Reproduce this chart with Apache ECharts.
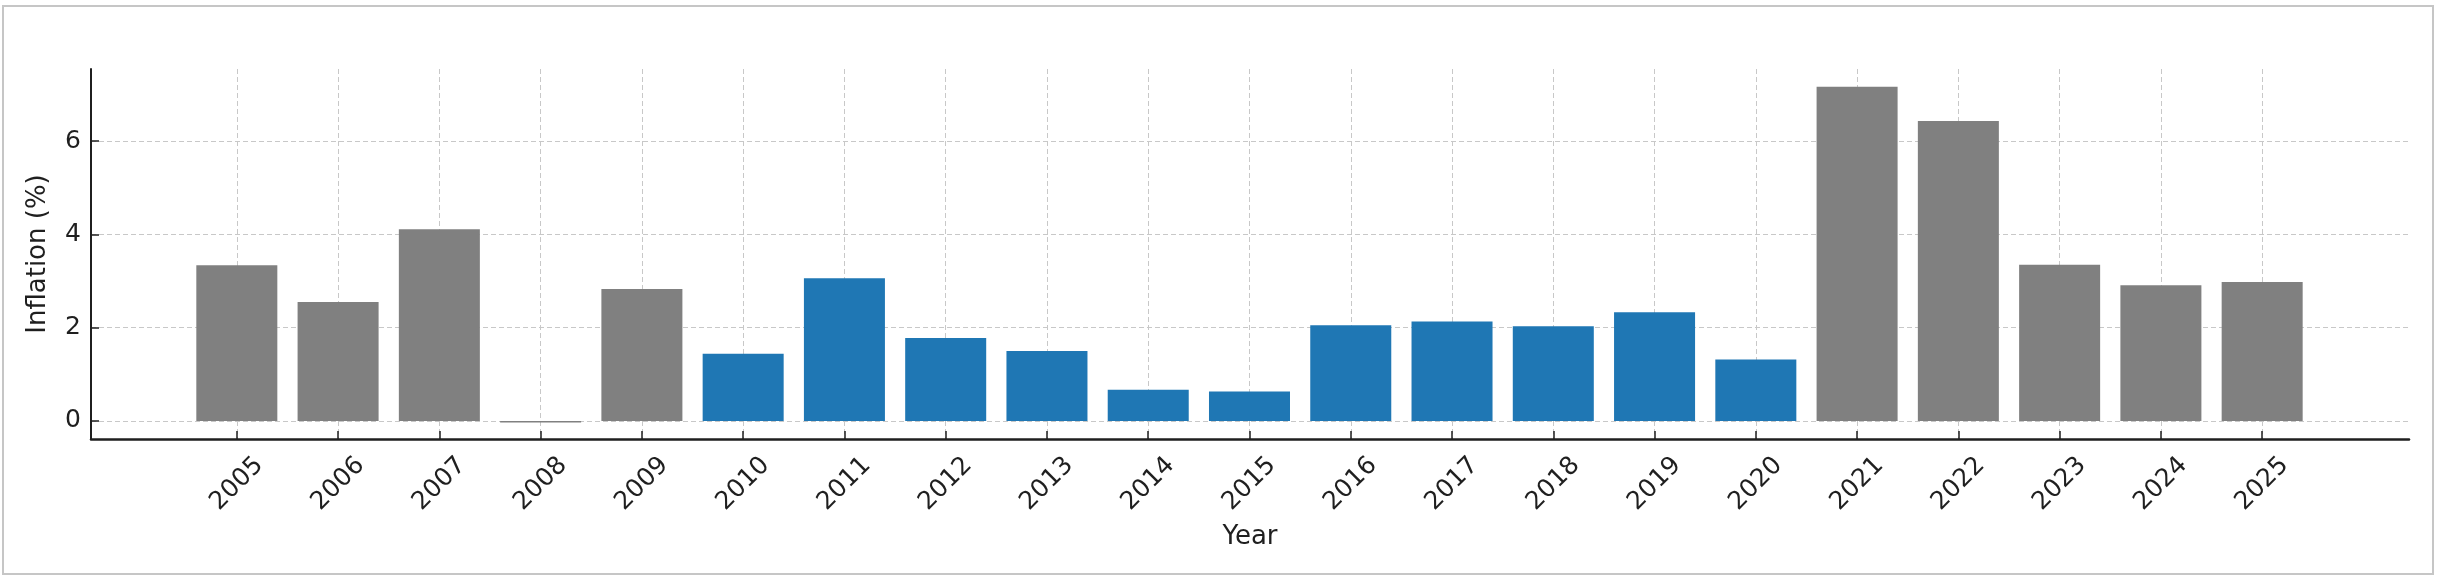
<!DOCTYPE html>
<html>
<head>
<meta charset="utf-8">
<script src="https://cdn.jsdelivr.net/npm/echarts@6/dist/echarts.min.js"></script>
<style>
  html, body { margin: 0; padding: 0; background: #ffffff; }
  #wrap { position: relative; width: 2442px; height: 586px; }
  #chart { position: absolute; left: 0; top: 0; width: 2442px; height: 586px; }
  #frame { position: absolute; left: 2px; top: 5px; width: 2428px; height: 566px;
           border: 2px solid #c6c6c6; pointer-events: none; }
</style>
</head>
<body>
<div id="wrap">
  <div id="chart"></div>
  <div id="frame"></div>
</div>
<script>
// ---- data ----
const years = [2005, 2006, 2007, 2008, 2009, 2010, 2011, 2012, 2013, 2014, 2015,
               2016, 2017, 2018, 2019, 2020, 2021, 2022, 2023, 2024, 2025];
const inflation = [3.34, 2.55, 4.11, -0.03, 2.83, 1.44, 3.06, 1.78, 1.50, 0.67, 0.63,
                   2.05, 2.13, 2.03, 2.33, 1.32, 7.16, 6.43, 3.35, 2.91, 2.98];
const highlightedYears = [2010, 2011, 2012, 2013, 2014, 2015, 2016, 2017, 2018, 2019, 2020];
const yTicks = [0, 2, 4, 6];
const xAxisName = 'Year';
const yAxisName = 'Inflation (%)';

// ---- build series data ----
const greyData = [];
const blueData = [];
years.forEach(function (y, i) {
  if (highlightedYears.indexOf(y) >= 0) blueData.push([y, inflation[i]]);
  else greyData.push([y, inflation[i]]);
});

const FONT = 'DejaVu Sans';
const TXT = '#1f1f1f';
const gridLine = { show: true, lineStyle: { color: '#c8c8c8', width: 1, type: [5, 3] } };

const chart = echarts.init(document.getElementById('chart'), null, { renderer: 'canvas' });
chart.setOption({
  animation: false,
  backgroundColor: 'transparent',
  textStyle: { fontFamily: FONT },
  grid: { left: 91, right: 33, top: 69, bottom: 147, containLabel: false, outerBoundsMode: 'none' },
  xAxis: {
    type: 'value',
    min: 2003.56,
    max: 2026.45,
    name: xAxisName,
    nameLocation: 'middle',
    nameGap: 85,
    nameTextStyle: { fontFamily: FONT, fontSize: 26, color: TXT },
    axisLine: { show: true, onZero: false, lineStyle: { color: TXT, width: 2.5 } },
    axisTick: { show: true, inside: true, length: 8, customValues: years,
                lineStyle: { color: TXT, width: 1.5 } },
    axisLabel: { show: true, customValues: years, rotate: 45, margin: 45,
                 align: 'center', verticalAlign: 'middle',
                 fontFamily: FONT, fontSize: 25, color: TXT,
                 formatter: function (v) { return String(v); } },
    splitLine: gridLine
  },
  yAxis: {
    type: 'value',
    min: -0.386,
    max: 7.543,
    name: yAxisName,
    nameLocation: 'middle',
    nameGap: 40,
    nameTextStyle: { fontFamily: FONT, fontSize: 26, color: TXT },
    axisLine: { show: true, onZero: false, lineStyle: { color: TXT, width: 2 } },
    axisTick: { show: true, inside: true, length: 8, customValues: yTicks,
                lineStyle: { color: TXT, width: 1.5 } },
    axisLabel: { show: true, customValues: yTicks, margin: 10,
                 fontFamily: FONT, fontSize: 25, color: TXT },
    splitLine: gridLine
  },
  series: [
    {
      name: 'Other years',
      type: 'bar',
      data: greyData,
      barWidth: '80%',
      barGap: '-100%',
      itemStyle: { color: '#808080' },
      z: 2
    },
    {
      name: '2010-2020',
      type: 'bar',
      data: blueData,
      barWidth: '80%',
      barGap: '-100%',
      itemStyle: { color: '#1f77b4' },
      z: 2
    }
  ]
});
</script>
</body>
</html>
